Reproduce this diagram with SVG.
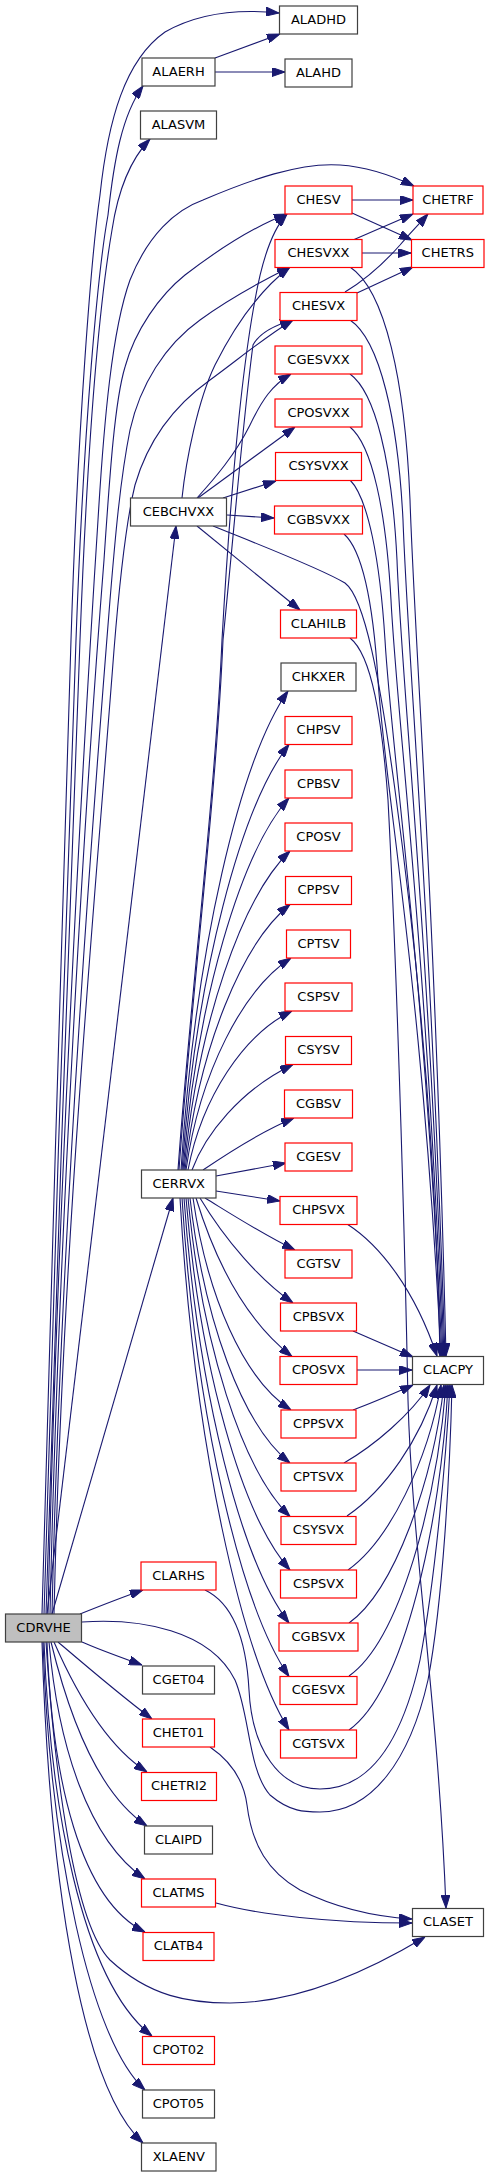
<svg xmlns="http://www.w3.org/2000/svg" width="491" height="2177" viewBox="0 0 491 2177">
<style>
.n rect{fill:#fff;stroke:#404040;stroke-width:1.2}
.r rect{fill:#fff;stroke:#ff0000;stroke-width:1.2}
.g rect{fill:#bfbfbf;stroke:#404040;stroke-width:1.2}
text{font-family:"DejaVu Sans","Liberation Sans",sans-serif;font-size:13px;fill:#000;text-anchor:middle}
#edges path{fill:none;stroke:#191970;stroke-width:1.1;marker-end:url(#a)}
</style>
<defs>
<marker id="a" markerUnits="userSpaceOnUse" markerWidth="13" markerHeight="9" refX="13" refY="4.5" orient="auto" viewBox="0 0 13 9">
<path d="M0,0 L13,4.5 L0,9 Z" fill="#191970" stroke="#191970" stroke-width="1"/>
</marker>
</defs>
<rect width="491" height="2177" fill="#fff"/>
<g id="edges">
<!-- CDRVHE upward -->
<path d="M42,1614 C50,1300 62,950 71,640 C78,420 92,250 100,195 C108,120 125,60 165,32 C200,12 240,9 279,13"/>
<path d="M44,1614 C52,1300 66,950 76,640 C84,420 98,270 108,215 C114,160 122,115 143,86"/>
<path d="M46,1614 C54,1300 70,950 80,640 C88,430 100,300 112,230 C118,190 130,160 150,139"/>
<path d="M48,1614 C56,1250 80,800 98,520 C104,420 112,330 130,280 C148,235 175,210 203,200 C250,180 300,162 340,165 C370,167 395,177 414,186"/>
<path d="M50,1614 C58,1250 85,800 104,560 C110,470 115,400 125,367 C135,330 160,295 185,275 C215,252 250,228 287,214"/>
<path d="M52,1614 C60,1250 90,850 110,600 C115,540 120,480 130,430 C140,385 165,345 200,320 C230,298 260,282 290,267"/>
<path d="M54,1614 C62,1250 95,900 114,650 C118,600 124,530 135,485 C148,440 175,405 210,380 C240,358 265,337 293,320"/>
<path d="M47,1614 L176,526"/>
<path d="M52,1614 L173,1198"/>
<path d="M80,1614 C100,1606 120,1598 143,1590"/>
<!-- CDRVHE downward -->
<path d="M82,1642 C100,1650 120,1657 142,1665"/>
<path d="M58,1642 C85,1665 120,1695 152,1719"/>
<path d="M54,1642 C75,1690 105,1745 147,1772"/>
<path d="M51,1642 C70,1720 100,1795 147,1826"/>
<path d="M49,1642 C58,1745 88,1840 145,1879"/>
<path d="M47,1642 C52,1780 80,1900 145,1932"/>
<path d="M44,1642 C50,1800 80,1980 152,2036"/>
<path d="M43,1642 C50,1850 90,2040 145,2090"/>
<path d="M42,1642 C50,1900 85,2090 143,2143"/>
<path d="M46,1642 C55,1780 75,1925 110,1960 C150,1997 190,2003 230,2003 C300,2003 370,1970 425,1937"/>
<path d="M82,1622 C140,1618 210,1630 235,1680 C250,1715 248,1770 270,1795 C290,1812 305,1812 320,1812 C372,1812 410,1760 428,1680 C443,1600 450,1470 452,1385"/>
<!-- ALAERH -->
<path d="M215,58 L280,34"/>
<path d="M215,72 L285,72"/>
<!-- CHESV family -->
<path d="M352,200 L413,200"/>
<path d="M352,213 C370,221 390,230 412,240"/>
<path d="M353,240 L413,214"/>
<path d="M362,253 L411,253"/>
<path d="M345,292 C365,280 385,262 400,245 C410,233 420,223 428,214"/>
<path d="M357,293 L413,267"/>
<!-- CEBCHVXX -->
<path d="M182,498 C186,460 198,400 215,365 C235,325 260,290 290,267"/>
<path d="M197,498 C215,478 235,455 250,425 C262,400 272,385 291,374"/>
<path d="M198,498 L295,427"/>
<path d="M223,498 L276,481"/>
<path d="M227,515 L274,518"/>
<path d="M197,526 L300,610"/>
<path d="M213,526 C260,545 320,568 345,583 C365,598 380,680 395,790 C410,900 435,1100 440,1356"/>
<!-- to CLACPY from above -->
<path d="M350,267 C385,290 405,380 410,500 C415,650 435,900 446,1356"/>
<path d="M350,320 C380,340 398,420 403,520 C408,660 430,900 445,1356"/>
<path d="M350,374 C375,392 392,460 397,560 C402,690 428,920 444,1356"/>
<path d="M350,427 C372,445 386,510 391,600 C397,720 426,940 443,1356"/>
<path d="M350,480 C368,498 380,560 385,640 C392,760 424,960 442,1356"/>
<path d="M344,534 C362,550 373,600 378,680 C386,800 422,980 441,1356"/>
<path d="M347,1224 C380,1245 415,1290 437,1356"/>
<path d="M353,1331 L413,1357"/>
<path d="M357,1370 L412,1370"/>
<!-- CLAHILB -> CLASET -->
<path d="M350,638 C372,655 382,720 388,800 C396,950 404,1200 408,1400 C412,1550 438,1700 446,1908"/>
<!-- to CLACPY from below -->
<path d="M353,1410 C375,1402 395,1393 413,1385"/>
<path d="M344,1463 C375,1445 410,1415 430,1385"/>
<path d="M347,1516 C385,1490 420,1440 437,1385"/>
<path d="M348,1570 C390,1540 428,1460 441,1385"/>
<path d="M349,1623 C395,1590 433,1480 444,1385"/>
<path d="M349,1676 C400,1640 437,1500 446,1385"/>
<path d="M349,1730 C405,1690 441,1520 448,1385"/>
<path d="M205,1590 C230,1602 246,1635 249,1690 C252,1750 280,1789 320,1789 C365,1789 400,1750 420,1660 C435,1580 446,1460 450,1385"/>
<!-- to CLASET -->
<path d="M210,1747 C232,1762 244,1782 247,1805 C252,1845 268,1872 300,1890 C340,1910 380,1917 412,1919"/>
<path d="M216,1903 C260,1915 330,1923 412,1923"/>
<!-- CERRVX upward -->
<path d="M178,1170 C190,1000 215,800 222,640 C230,500 240,380 255,300 C262,260 272,230 287,214"/>
<path d="M179,1170 C191,1000 216,800 223,640 C235,520 243,420 253,345 C260,332 275,325 293,320"/>
<path d="M181,1170 C195,950 240,760 288,691"/>
<path d="M182,1170 C196,974 241,806 289,744.5"/>
<path d="M183,1170 C197,999 241,852 289,798"/>
<path d="M184,1170 C198,1023 242,897 290,851"/>
<path d="M185,1170 C199,1048 242,943 290,904.5"/>
<path d="M186,1170 C200,1072 243,989 291,958"/>
<path d="M188,1170 C202,1097 244,1034 292,1011"/>
<path d="M192,1170 C205,1135 240,1090 293,1064.5"/>
<path d="M203,1170 C225,1155 260,1132 294,1118"/>
<path d="M216,1176 L286,1163"/>
<path d="M216,1191 L280,1201"/>
<!-- CERRVX downward -->
<path d="M205,1198 C228,1212 262,1234 295,1250"/>
<path d="M200,1198 C225,1240 260,1280 293,1303"/>
<path d="M196,1198 C215,1260 245,1320 292,1356.5"/>
<path d="M193,1198 C207,1295 243,1379 291,1410"/>
<path d="M190,1198 C204,1320 242,1425 290,1463"/>
<path d="M188,1198 C202,1344 242,1470 290,1516.5"/>
<path d="M186,1198 C200,1369 242,1516 290,1570"/>
<path d="M184,1198 C198,1393 241,1561 289,1623"/>
<path d="M182,1198 C196,1418 241,1607 289,1676.5"/>
<path d="M180,1198 C194,1443 241,1653 289,1730"/>
</g>
<g id="ALADHD" class="n"><rect x="279.5" y="6" width="78" height="28"/><text x="318.5" y="23.5">ALADHD</text></g>
<g id="ALAERH" class="n"><rect x="142" y="58" width="73" height="28"/><text x="178.5" y="75.5">ALAERH</text></g>
<g id="ALAHD" class="n"><rect x="285" y="59" width="67" height="28"/><text x="318.5" y="76.5">ALAHD</text></g>
<g id="ALASVM" class="n"><rect x="140.5" y="111" width="76" height="28"/><text x="178.5" y="128.5">ALASVM</text></g>
<g id="CHESV" class="r"><rect x="285" y="186" width="67" height="28"/><text x="318.5" y="203.5">CHESV</text></g>
<g id="CHETRF" class="r"><rect x="413" y="186" width="70" height="28"/><text x="448" y="203.5">CHETRF</text></g>
<g id="CHESVXX" class="r"><rect x="275" y="239.5" width="87" height="28"/><text x="318.5" y="257">CHESVXX</text></g>
<g id="CHETRS" class="r"><rect x="411.5" y="239.5" width="72.5" height="28"/><text x="447.75" y="257">CHETRS</text></g>
<g id="CHESVX" class="r"><rect x="280" y="292.5" width="77" height="28"/><text x="318.5" y="310">CHESVX</text></g>
<g id="CGESVXX" class="r"><rect x="275" y="346" width="87" height="28"/><text x="318.5" y="363.5">CGESVXX</text></g>
<g id="CPOSVXX" class="r"><rect x="275" y="399" width="87" height="28"/><text x="318.5" y="416.5">CPOSVXX</text></g>
<g id="CSYSVXX" class="r"><rect x="275.5" y="452.5" width="86" height="28"/><text x="318.5" y="470">CSYSVXX</text></g>
<g id="CEBCHVXX" class="n"><rect x="130.5" y="498" width="96" height="28"/><text x="178.5" y="515.5">CEBCHVXX</text></g>
<g id="CGBSVXX" class="r"><rect x="274.5" y="506" width="88" height="28"/><text x="318.5" y="523.5">CGBSVXX</text></g>
<g id="CLAHILB" class="r"><rect x="280.5" y="610" width="76" height="28"/><text x="318.5" y="627.5">CLAHILB</text></g>
<g id="CHKXER" class="n"><rect x="281" y="663" width="75" height="28"/><text x="318.5" y="680.5">CHKXER</text></g>
<g id="CHPSV" class="r"><rect x="285" y="716.5" width="67" height="28"/><text x="318.5" y="734">CHPSV</text></g>
<g id="CPBSV" class="r"><rect x="285" y="770" width="67" height="28"/><text x="318.5" y="787.5">CPBSV</text></g>
<g id="CPOSV" class="r"><rect x="285" y="823" width="67" height="28"/><text x="318.5" y="840.5">CPOSV</text></g>
<g id="CPPSV" class="r"><rect x="285.5" y="876.5" width="66" height="28"/><text x="318.5" y="894">CPPSV</text></g>
<g id="CPTSV" class="r"><rect x="286.5" y="930" width="64" height="28"/><text x="318.5" y="947.5">CPTSV</text></g>
<g id="CSPSV" class="r"><rect x="285" y="983" width="67" height="28"/><text x="318.5" y="1000.5">CSPSV</text></g>
<g id="CSYSV" class="r"><rect x="285.5" y="1036.5" width="66" height="28"/><text x="318.5" y="1054">CSYSV</text></g>
<g id="CGBSV" class="r"><rect x="284.5" y="1090" width="68" height="28"/><text x="318.5" y="1107.5">CGBSV</text></g>
<g id="CGESV" class="r"><rect x="285" y="1143" width="67" height="28"/><text x="318.5" y="1160.5">CGESV</text></g>
<g id="CERRVX" class="n"><rect x="141.5" y="1170" width="74.5" height="28"/><text x="178.75" y="1187.5">CERRVX</text></g>
<g id="CHPSVX" class="r"><rect x="280" y="1196.5" width="77" height="28"/><text x="318.5" y="1214">CHPSVX</text></g>
<g id="CGTSV" class="r"><rect x="285" y="1250" width="67" height="28"/><text x="318.5" y="1267.5">CGTSV</text></g>
<g id="CPBSVX" class="r"><rect x="280.5" y="1303" width="76" height="28"/><text x="318.5" y="1320.5">CPBSVX</text></g>
<g id="CPOSVX" class="r"><rect x="280" y="1356.5" width="77" height="28"/><text x="318.5" y="1374">CPOSVX</text></g>
<g id="CLACPY" class="n"><rect x="412.5" y="1356.5" width="71" height="28"/><text x="448" y="1374">CLACPY</text></g>
<g id="CPPSVX" class="r"><rect x="281" y="1410" width="75" height="28"/><text x="318.5" y="1427.5">CPPSVX</text></g>
<g id="CPTSVX" class="r"><rect x="281" y="1463" width="75" height="28"/><text x="318.5" y="1480.5">CPTSVX</text></g>
<g id="CSYSVX" class="r"><rect x="281" y="1516.5" width="75" height="28"/><text x="318.5" y="1534">CSYSVX</text></g>
<g id="CSPSVX" class="r"><rect x="280.5" y="1570" width="76" height="28"/><text x="318.5" y="1587.5">CSPSVX</text></g>
<g id="CLARHS" class="r"><rect x="141" y="1562" width="75" height="28"/><text x="178.5" y="1579.5">CLARHS</text></g>
<g id="CDRVHE" class="g"><rect x="5.5" y="1614" width="76" height="28"/><text x="43.5" y="1631.5">CDRVHE</text></g>
<g id="CGBSVX" class="r"><rect x="279" y="1623" width="79" height="28"/><text x="318.5" y="1640.5">CGBSVX</text></g>
<g id="CGET04" class="n"><rect x="142.5" y="1666" width="72" height="28"/><text x="178.5" y="1683.5">CGET04</text></g>
<g id="CGESVX" class="r"><rect x="280" y="1676.5" width="77" height="28"/><text x="318.5" y="1694">CGESVX</text></g>
<g id="CHET01" class="r"><rect x="142.5" y="1719" width="72" height="28"/><text x="178.5" y="1736.5">CHET01</text></g>
<g id="CGTSVX" class="r"><rect x="280.5" y="1730" width="76" height="28"/><text x="318.5" y="1747.5">CGTSVX</text></g>
<g id="CHETRI2" class="r"><rect x="141.5" y="1772.5" width="75" height="28"/><text x="179" y="1790">CHETRI2</text></g>
<g id="CLAIPD" class="n"><rect x="144.5" y="1826" width="68" height="28"/><text x="178.5" y="1843.5">CLAIPD</text></g>
<g id="CLATMS" class="r"><rect x="141.5" y="1879" width="74" height="28"/><text x="178.5" y="1896.5">CLATMS</text></g>
<g id="CLASET" class="n"><rect x="412.5" y="1908.5" width="71" height="28"/><text x="448" y="1926">CLASET</text></g>
<g id="CLATB4" class="r"><rect x="143" y="1932.5" width="71" height="28"/><text x="178.5" y="1950">CLATB4</text></g>
<g id="CPOT02" class="r"><rect x="142.5" y="2036.5" width="72" height="28"/><text x="178.5" y="2054">CPOT02</text></g>
<g id="CPOT05" class="n"><rect x="142.5" y="2090" width="72" height="28"/><text x="178.5" y="2107.5">CPOT05</text></g>
<g id="XLAENV" class="n"><rect x="141.5" y="2143" width="74.5" height="28"/><text x="178.75" y="2160.5">XLAENV</text></g>
</svg>
